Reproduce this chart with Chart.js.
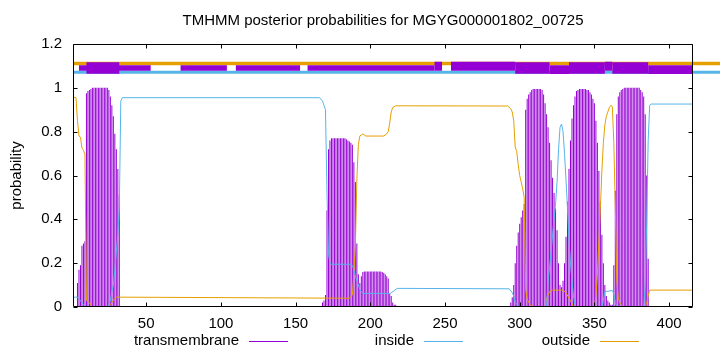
<!DOCTYPE html>
<html><head><meta charset="utf-8">
<script src="https://cdn.jsdelivr.net/npm/chart.js@4.4.1/dist/chart.umd.min.js"></script>
<style>html,body{margin:0;padding:0;background:#fff;}#wrap{width:720px;height:352px;position:relative;}</style>
</head><body><div id="wrap"><canvas id="c" width="720" height="352"></canvas></div>
<script>
// ---------------- data ----------------
const titleText = "TMHMM posterior probabilities for MGYG000001802_00725";
const yAxisLabel = "probability";
const seriesNames = ["transmembrane", "inside", "outside"];
const seqLength = 416;
const xTickValues = [50, 100, 150, 200, 250, 300, 350, 400];
const yTickValues = [0, 0.2, 0.4, 0.6, 0.8, 1, 1.2];

// transmembrane posterior, per residue, in runs (start residue + values)
const tmRun1Start = 4;
const tmRun1 = [0.11,0.17,0.19,0.28,0.29,0.30,0.975,0.985,0.99,0.995,1,1,1,1,1,1,1,1,1,1,1,0.99,0.96,0.92,0.87,0.79,0.72,0.63,0.51];
const tmRun0Start = 110;
const tmRun0 = [0.004,0.004,0.004,0.004,0.004,0.004,0.004,0.004,0.004,0.004,0.004,0.004,0.004,0.004];
const tmRun2Start = 168;
const tmRun2 = [0.02,0.03,0.055,0.44,0.72,0.76,0.77,0.77,0.77,0.77,0.77,0.77,0.77,0.77,0.77,0.77,0.765,0.76,0.755,0.75,0.74,0.66,0.57,0.29,0.15,0.11,0.14,0.16,
  0.162,0.162,0.162,0.162,0.162,0.162,0.162,0.162,0.162,0.162,0.162,0.162,0.16,0.155,0.15,0.14,0.13,0.06,0.05,0.02,0.01,0.01,0.005];
const tmRun3Start = 293;
const tmRun3 = [0.005,0.02,0.045,0.1,0.2,0.28,0.34,0.38,0.41,0.44,0.47,0.9,0.95,0.97,0.98,0.99,0.995,0.995,0.995,0.995,0.995,0.995,0.99,0.97,0.93,0.88,0.82,0.75,0.67,0.59,0.52,0.45,0.35,0.2,0.1,0.09,
  0.12,0.2,0.32,0.48,0.63,0.76,0.86,0.92,0.96,0.985,0.99,0.995,0.995,0.995,0.995,0.995,0.99,0.99,0.98,0.97,0.95,0.93,0.85,0.75,0.62,0.48,0.33,0.2,0.1,0.05,0.03,0.02,0.01,0.01,
  0.19,0.53,0.88,0.96,0.98,0.99,0.995,1,1,1,1,1,1,1,1,1,1,1,0.99,0.98,0.96,0.88,0.6,0.22];

// inside posterior (residue, probability)
const insideProb = [[1,.045],[4,.045],[6,.03],[8,.01],[10,0],[24,0],[25,.01],[26,.03],[27,.07],[28,.1],[29,.17],[30,.25],[31,.33],[32,.45],[33,.94],[34,.955],
  [166,.955],[168,.94],[169,.92],[170,.9],[171,.52],[172,.24],[173,.2],[174,.195],[187,.195],[188,.19],[189,.17],[190,.14],[191,.12],[192,.1],[193,.08],[194,.07],[195,.062],
  [213,.062],[214,.065],[216,.075],[218,.085],[293,.083],[295,.065],[296,.05],[297,.02],[299,.005],[300,0],[318,0],[319,.12],[320,.18],[321,.25],[322,.33],[323,.4],[324,.47],
  [325,.57],[326,.72],[327,.82],[328,.835],[329,.8],[330,.7],[331,.58],[332,.45],[333,.3],[334,.2],[335,.12],[336,.05],[337,.01],[338,0],[355,0],[356,.03],[357,.07],
  [362,.075],[363,.06],[364,.02],[365,0],[383,0],[384,.1],[385,.38],[386,.76],[387,.92],[388,.926],[416,.926]];

// outside posterior (residue, probability)
const outsideProb = [[1,.957],[3,.955],[4,.85],[5,.78],[6,.775],[7,.725],[8,.715],[9,.695],[10,.03],[12,.02],[14,0],[24,0],[25,.005],[26,.01],[27,.02],[28,.03],[29,.04],[30,.045],
  [186,.04],[188,.055],[189,.15],[190,.28],[191,.58],[192,.74],[193,.78],[195,.79],[197,.78],[209,.78],[211,.79],[212,.8],[213,.84],[214,.89],[215,.91],[217,.918],
  [292,.917],[294,.905],[295,.89],[296,.85],[297,.73],[298,.71],[299,.65],[300,.6],[301,.57],[302,.54],[303,.5],[304,.08],[305,.035],[307,.01],[310,0],[317,0],[318,.04],
  [320,.07],[322,.077],[329,.077],[331,.065],[333,.04],[334,.03],[336,0],[350,0],[351,.05],[352,.15],[353,.3],[354,.45],[355,.62],[356,.75],[357,.83],[358,.87],[359,.89],
  [360,.91],[361,.92],[362,.915],[363,.75],[364,.45],[365,.12],[366,.04],[367,.02],[369,0],[384,0],[385,.02],[386,.05],[387,.077],[416,.077]];

// top strip: predicted topology marks (residue ranges)
const topOutsideLevel = 1.111;
const topInsideLevel = 1.071;
const topStripEnd = 436;
const bandMidLevel = 1.0903;
const bandUpperLevel = 1.0985;
const bandLowerLevel = 1.0828;
const bandThin = [[5,53],[73,104],[110,153],[158,243]];
const bandThick = [[10,32],[297,320],[333,357],[362,386]];
const bandUpper = [[243,248],[254,297],[357,362]];
const bandLower = [[320,333],[386,416]];

// ---------------- build ----------------
const PURPLE = '#9400D3', BLUE = '#56B4E9', ORANGE = '#E69F00';
const FONT = "'Liberation Sans', Arial, sans-serif";
function runPoints(start, vals){ return vals.map((v,i)=>({x:start+i, y:v})); }
const tmPoints = [].concat(runPoints(tmRun1Start,tmRun1), runPoints(tmRun0Start,tmRun0), runPoints(tmRun2Start,tmRun2), runPoints(tmRun3Start,tmRun3));
const pairPts = arr => arr.map(p=>({x:p[0], y:p[1]}));
function bandPts(ranges, level){
  const out=[];
  ranges.forEach(r=>{ out.push({x:r[0],y:level},{x:r[1],y:level},{x:(r[1]+0.001),y:null}); });
  return out;
}
function bandDs(ranges, level, w, order){
  return {type:'line', data:bandPts(ranges, level), borderColor:PURPLE, borderWidth:w, borderCapStyle:'butt',
    pointRadius:0, spanGaps:false, order:order, tension:0};
}

Chart.defaults.font.family = FONT;
Chart.defaults.font.size = 15;
Chart.defaults.color = '#000';

const decor = {
  id:'decor',
  afterDatasetsDraw(chart){
    const {ctx, chartArea:a, scales:{x,y}} = chart;
    ctx.save();
    ctx.strokeStyle='#000'; ctx.lineWidth=1;
    const L=Math.round(a.left)+0.5, R=Math.round(a.right)-0.5, T=Math.round(a.top)+0.5, B=Math.round(a.bottom)-0.5;
    ctx.beginPath();
    ctx.rect(L,T,R-L,B-T);
    xTickValues.forEach(v=>{ const p=Math.round(x.getPixelForValue(v))+0.5; ctx.moveTo(p,B); ctx.lineTo(p,B-4); ctx.moveTo(p,T); ctx.lineTo(p,T+4); });
    yTickValues.forEach(v=>{ const p=Math.round(y.getPixelForValue(v))+0.5; ctx.moveTo(L,p); ctx.lineTo(L+4,p); ctx.moveTo(R,p); ctx.lineTo(R-4,p); });
    ctx.stroke();
    ctx.restore();
  },
  afterDraw(chart){
    const {ctx, chartArea:a} = chart;
    ctx.save();
    ctx.fillStyle='#000';
    ctx.font="15px "+FONT;
    ctx.textAlign='center'; ctx.textBaseline='middle';
    ctx.fillText(titleText, (a.left+a.right)/2, 21);
    ctx.save();
    ctx.translate(17,(a.top+a.bottom)/2); ctx.rotate(-Math.PI/2);
    ctx.fillText(yAxisLabel,0,0);
    ctx.restore();
    const cols=[PURPLE,BLUE,ORANGE];
    const textRight=[239,414,590];
    ctx.textAlign='right';
    seriesNames.forEach((n,i)=>{
      ctx.fillStyle='#000';
      ctx.fillText(n,textRight[i],341);
      ctx.strokeStyle=cols[i]; ctx.lineWidth=1;
      ctx.beginPath(); ctx.moveTo(textRight[i]+10,341.5); ctx.lineTo(textRight[i]+49,341.5); ctx.stroke();
    });
    ctx.restore();
  }
};

new Chart(document.getElementById('c'), {
  type:'bar',
  data:{datasets:[
    bandDs(bandThin, bandMidLevel, 5.4, 0),
    bandDs(bandThick, bandMidLevel, 11.5, 0),
    bandDs(bandUpper, bandUpperLevel, 9, 0),
    bandDs(bandLower, bandLowerLevel, 8.7, 0),
    {type:'line', label:'topInside', data:[{x:1,y:topInsideLevel},{x:topStripEnd,y:topInsideLevel}], borderColor:BLUE, borderWidth:3, pointRadius:0, clip:false, order:1, borderCapStyle:'butt'},
    {type:'line', label:'topOutside', data:[{x:1,y:topOutsideLevel},{x:topStripEnd,y:topOutsideLevel}], borderColor:ORANGE, borderWidth:3.5, pointRadius:0, clip:false, order:2, borderCapStyle:'butt'},
    {type:'line', label:seriesNames[1], data:pairPts(insideProb), borderColor:BLUE, borderWidth:1, pointRadius:0, tension:0, order:3},
    {type:'line', label:seriesNames[2], data:pairPts(outsideProb), borderColor:ORANGE, borderWidth:1, pointRadius:0, tension:0, order:4},
    {type:'bar', label:seriesNames[0], data:tmPoints, backgroundColor:PURPLE, barThickness:1, inflateAmount:0, borderWidth:0, order:5, grouped:false}
  ]},
  options:{
    responsive:false, animation:false, devicePixelRatio:1,
    layout:{padding:{left:0,right:27,top:44,bottom:0}},
    plugins:{legend:{display:false}, title:{display:false}, tooltip:{enabled:false}},
    scales:{
      x:{type:'linear', min:1, max:seqLength, offset:false,
         grid:{display:false, drawTicks:false}, border:{display:false},
         afterBuildTicks:s=>{ s.ticks = xTickValues.map(v=>({value:v})); },
         afterFit:s=>{ s.height = 45; },
         ticks:{padding:8, maxRotation:0, autoSkip:false, callback:v=>String(v)}},
      y:{type:'linear', min:0, max:1.2,
         grid:{display:false, drawTicks:false}, border:{display:false},
         afterBuildTicks:s=>{ s.ticks = yTickValues.map(v=>({value:v})); },
         afterFit:s=>{ s.width = 73; },
         ticks:{padding:11, callback:v=>String(Math.round(v*10)/10)}}
    }
  },
  plugins:[decor]
});
</script></body></html>
